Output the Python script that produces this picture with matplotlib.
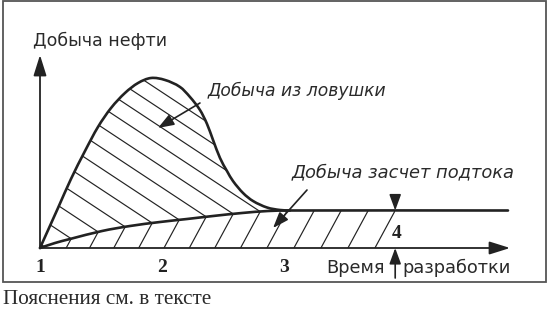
import matplotlib

matplotlib.use("Agg")
import matplotlib.pyplot as plt
import numpy as np
from matplotlib.patches import PathPatch, Rectangle
from matplotlib.path import Path

# стадии разработки (метки на оси времени)
stage_labels = ["1", "2", "3"]
stage_t = [0.0, 1.02, 2.03]
stage4_label = "4"
stage4_t = 2.96

# добыча из ловушки (горб)
trap_t = [0.0, 0.15, 0.258, 0.375, 0.483, 0.592, 0.708, 0.817, 0.925, 1.042, 1.167,
          1.25, 1.333, 1.392, 1.442, 1.5, 1.558, 1.608, 1.692, 1.775, 1.892, 2.0, 2.083]
trap_q = [0.0, 4.0, 6.9, 9.7, 12.1, 14.0, 15.5, 16.5, 17.0, 16.8, 16.1,
          15.1, 13.8, 12.4, 10.8, 9.0, 7.7, 6.7, 5.5, 4.7, 4.05, 3.8, 3.75]

# добыча за счет подтока
inflow_t = [0.0, 0.125, 0.25, 0.517, 0.75, 1.0, 1.225, 1.442, 1.683, 1.9, 2.083, 3.9]
inflow_q = [0.0, 0.5, 0.9, 1.7, 2.2, 2.6, 2.9, 3.2, 3.5, 3.7, 3.75, 3.75]

ink = "#222222"
txt = "#2a2a2a"


def bezier_segments(t, q):
    """Гладкие кубические сегменты через точки (касательные по соседям)."""
    t = np.asarray(t, float)
    q = np.asarray(q, float)
    n = len(t)
    m = np.empty(n)
    m[0] = (q[1] - q[0]) / (t[1] - t[0])
    m[-1] = (q[-1] - q[-2]) / (t[-1] - t[-2])
    m[1:-1] = (q[2:] - q[:-2]) / (t[2:] - t[:-2])
    segs = []
    for i in range(n - 1):
        h = t[i + 1] - t[i]
        segs.append([(t[i], q[i]), (t[i] + h / 3, q[i] + m[i] * h / 3),
                     (t[i + 1] - h / 3, q[i + 1] - m[i + 1] * h / 3), (t[i + 1], q[i + 1])])
    return segs


def chain(segs, start=True):
    verts = [segs[0][0]] if start else []
    codes = [Path.MOVETO] if start else []
    for s in segs:
        verts += s[1:]
        codes += [Path.CURVE4] * 3
    return verts, codes


trap_segs = bezier_segments(trap_t, trap_q)
inflow_segs = bezier_segments(inflow_t, inflow_q)
n_merge = len(inflow_t) - 2  # сегменты подтока до точки слияния с горбом

fig = plt.figure(figsize=(5.47, 3.09), dpi=100)
ax = fig.add_axes([0, 0, 1, 1])
ax.set_xlim(-40 / 120, 507 / 120)
ax.set_ylim(-6.1, 24.8)
ax.axis("off")

# рамка
ax.add_patch(Rectangle((3 / 547, 27 / 309), 543 / 547, 281 / 309, transform=ax.transAxes,
                       fill=False, ec="#555555", lw=1.3))

# области штриховки
v1, c1 = chain(trap_segs)
rev = [s[::-1] for s in inflow_segs[:n_merge][::-1]]
v2, c2 = chain(rev, start=False)
upper = PathPatch(Path(v1 + v2 + [(0, 0)], c1 + c2 + [Path.CLOSEPOLY]), fill=False, lw=0)

q4 = np.interp(stage4_t, inflow_t, inflow_q)
v3, c3 = chain(inflow_segs[:n_merge])
lower = PathPatch(Path(v3 + [(stage4_t, q4), (stage4_t, 0), (0, 0), (0, 0)],
                       c3 + [Path.LINETO, Path.LINETO, Path.LINETO, Path.CLOSEPOLY]),
                  fill=False, lw=0)
ax.add_patch(upper)
ax.add_patch(lower)

# штриховка "\" сверху и "/" снизу, сходящиеся на кривой подтока
step = 27 / 120
up_slope = 0.66 * 12
low_slope = 1.85 * 12
for k in range(-10, 14):
    ta = stage4_t - k * step
    qa = np.interp(ta, inflow_t, inflow_q)
    tt = np.array([ta - 3, ta + 1])
    ln, = ax.plot(tt, qa + up_slope * (ta - tt), color=ink, lw=0.85)
    ln.set_clip_path(upper)
    tt = np.array([ta - 1, ta + 1])
    ln, = ax.plot(tt, qa - low_slope * (ta - tt), color=ink, lw=0.85)
    ln.set_clip_path(lower)

# кривые
for segs in (trap_segs, inflow_segs):
    v, c = chain(segs)
    ax.add_patch(PathPatch(Path(v, c), fill=False, ec=ink, lw=1.9, capstyle="round"))

# оси со стрелками
axis_arrow = dict(arrowstyle="-|>,head_length=0.7,head_width=0.22", color=ink, lw=1.3,
                  shrinkA=0, shrinkB=0, mutation_scale=18)
ax.annotate("", xy=(3.917, 0), xytext=(0, 0), arrowprops=axis_arrow)
ax.annotate("", xy=(0, 19.3), xytext=(0, 0), arrowprops=axis_arrow)

small_arrow = dict(arrowstyle="-|>,head_length=0.6,head_width=0.22", color=ink, lw=1.2,
                   shrinkA=0, shrinkB=0, mutation_scale=16)
ax.annotate("", xy=(0.983, 12.0), xytext=(1.333, 14.5), arrowprops=small_arrow)
ax.annotate("", xy=(1.942, 2.0), xytext=(2.225, 5.8), arrowprops=small_arrow)
ax.annotate("", xy=(stage4_t, 3.75), xytext=(stage4_t, 5.3), arrowprops=small_arrow)
ax.annotate("", xy=(stage4_t, 0), xytext=(stage4_t, -3.0), arrowprops=small_arrow)

# подписи
ax.text(-0.058, 20.7, "Добыча нефти", ha="left", va="center", fontsize=12.5,
        color=txt, family="DejaVu Sans")
ax.text(1.4, 15.7, "Добыча из ловушки", ha="left", va="center", fontsize=12.3,
        color=txt, style="italic", family="DejaVu Sans")
ax.text(2.1, 7.6, "Добыча засчет подтока", ha="left", va="center", fontsize=12.9,
        color=txt, style="italic", family="DejaVu Sans")
ax.text(2.875, -2.0, "Время", ha="right", va="center", fontsize=12.8, color=txt,
        family="DejaVu Sans")
ax.text(3.017, -2.0, "разработки", ha="left", va="center", fontsize=12.8, color=txt,
        family="DejaVu Sans")

for lab, t in zip(stage_labels, stage_t):
    ax.text(t, -2.0, lab, ha="center", va="center", fontsize=14, weight="bold",
            color=ink, family="Liberation Serif")
ax.text(stage4_t + 0.01, 1.5, stage4_label, ha="center", va="center", fontsize=14,
        weight="bold", color=ink, family="Liberation Serif")

fig.text(3 / 547, 1 - 300 / 309, "Пояснения см. в тексте", ha="left", va="center",
         fontsize=15.3, color=txt, family="Liberation Serif")

fig.savefig("out.png", dpi=100)
